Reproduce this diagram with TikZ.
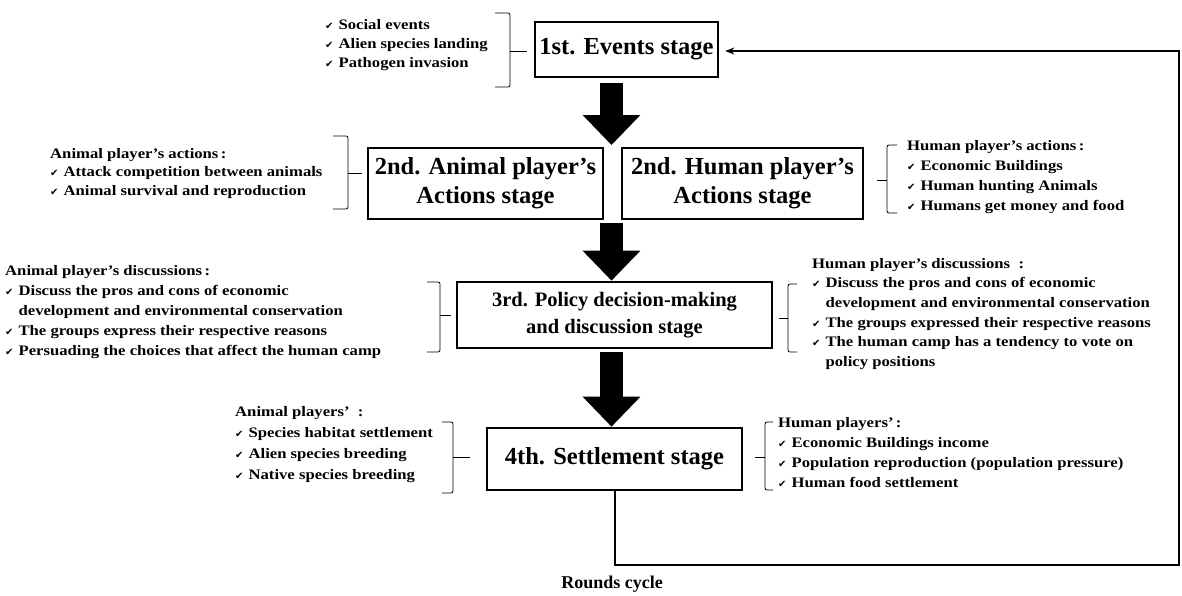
\documentclass[tikz,border=0pt]{standalone}
\usepackage{fontspec}
\setmainfont{Liberation Serif}
\newfontfamily\lf[FakeStretch=1.15,Ligatures=TeX]{Liberation Serif}
\newfontfamily\symf{DejaVu Sans}
\usetikzlibrary{arrows.meta,calc}
\newcommand{\ck}{{\symf\fontsize{10}{10}\selectfont ✔}\hspace{5pt}}
\newcommand{\ckind}{\phantom{\ck}}
\tikzset{
  stagebox/.style={draw, line width=2.6pt, align=center, inner sep=0pt,
    font=\bfseries\fontsize{24.5}{29}\selectfont},
  listtxt/.style={align=left, inner sep=0pt, anchor=north west,
    font=\lf\bfseries\fontsize{14.5}{20}\selectfont},
  brk/.style={line width=0.8pt, rounded corners=2pt},
  bigarrow/.style={line width=23pt, -{Triangle[length=30pt,width=56pt]}},
  loopline/.style={line width=1.5pt},
}
\begin{document}
\begin{tikzpicture}[x=1pt,y=-1pt]
\useasboundingbox (0,0) rectangle (1182,595);
% stage boxes
\node[stagebox, minimum width=183pt, minimum height=55pt] (b1) at (626.5,49.5) {1st. Events stage};
\node[stagebox, minimum width=235pt, minimum height=71pt] (b2a) at (485.5,183.5) {2nd. Animal player’s\\Actions stage};
\node[stagebox, minimum width=241pt, minimum height=71pt] (b2b) at (742.5,183.5) {2nd. Human player’s\\Actions stage};
\node[stagebox, minimum width=315pt, minimum height=66pt, font=\bfseries\fontsize{20.5}{27}\selectfont] (b3) at (614.5,315) {3rd. Policy decision-making\\and discussion stage};
\node[stagebox, minimum width=255pt, minimum height=62pt] (b4) at (614.5,459) {4th. Settlement stage};
% arrow column
\coordinate (ax) at (611.5,0);
\coordinate (m2) at (611.5,145);
\draw[bigarrow] ([yshift=-5pt]b1.south -| ax) -- (m2);
\draw[bigarrow] ([yshift=-3pt]b2a.south -| ax) -- (b3.north -| ax);
\draw[bigarrow] ([yshift=-3pt]b3.south -| ax) -- (b4.north -| ax);
% loop
\coordinate (c1) at (615,565);
\coordinate (c2) at (1179,565);
\coordinate (c3) at (1179,51);
\draw[loopline, -{Stealth[length=9pt,width=7pt]}] (b4.south -| c1) -- (c1) -- (c2) -- (c3) -- ([xshift=6pt]b1.east |- c3);
\node[font=\bfseries\fontsize{18}{20}\selectfont, inner sep=0pt] (rc) at (612,584) {Rounds cycle};
% lists
\node[listtxt, font=\lf\bfseries\fontsize{14.5}{19}\selectfont] (l1) at (325,19) {\ck Social events\\\ck Alien species landing\\\ck Pathogen invasion};
\node[listtxt, font=\lf\bfseries\fontsize{14.5}{18.5}\selectfont] (l2) at (50,148) {Animal player’s actions\,:\\\ck Attack competition between animals\\\ck Animal survival and reproduction};
\node[listtxt] (l3) at (907,140) {Human player’s actions\,:\\\ck Economic Buildings\\\ck Human hunting Animals\\\ck Humans get money and food};
\node[listtxt] (l4) at (5,265) {Animal player’s discussions\,:\\\ck Discuss the pros and cons of economic\\\ckind development and environmental conservation\\\ck The groups express their respective reasons\\\ck Persuading the choices that affect the human camp};
\node[listtxt, font=\lf\bfseries\fontsize{14.5}{19.6}\selectfont] (l5) at (812,258) {Human player’s discussions \ :\\\ck Discuss the pros and cons of economic\\\ckind development and environmental conservation\\\ck The groups expressed their respective reasons\\\ck The human camp has a tendency to vote on\\\ckind policy positions};
\node[listtxt, font=\lf\bfseries\fontsize{14.5}{21}\selectfont] (l6) at (235,406) {Animal players’\ \ :\\\ck Species habitat settlement\\\ck Alien species breeding\\\ck Native species breeding};
\node[listtxt] (l7) at (778,417) {Human players’\,:\\\ck Economic Buildings income\\\ck Population reproduction (population pressure)\\\ck Human food settlement};
% brackets
\draw[brk] (495,13) -- (510,13) -- (510,87) -- (495,87);
\draw[brk] (510,51) -- (527,51);
\draw[brk] (333,136) -- (348,136) -- (348,209) -- (333,209);
\draw[brk] (348,173) -- (362,173);
\draw[brk] (897,145) -- (887,145) -- (887,213) -- (897,213);
\draw[brk] (887,180) -- (877,180);
\draw[brk] (427,282) -- (440,282) -- (440,352) -- (427,352);
\draw[brk] (440,315) -- (451,315);
\draw[brk] (797,284) -- (788,284) -- (788,352) -- (797,352);
\draw[brk] (788,318) -- (779,318);
\draw[brk] (442,422) -- (453,422) -- (453,493) -- (442,493);
\draw[brk] (453,457) -- (470,457);
\draw[brk] (773,422) -- (765,422) -- (765,490) -- (773,490);
\draw[brk] (765,457) -- (755,457);
\end{tikzpicture}
\end{document}
